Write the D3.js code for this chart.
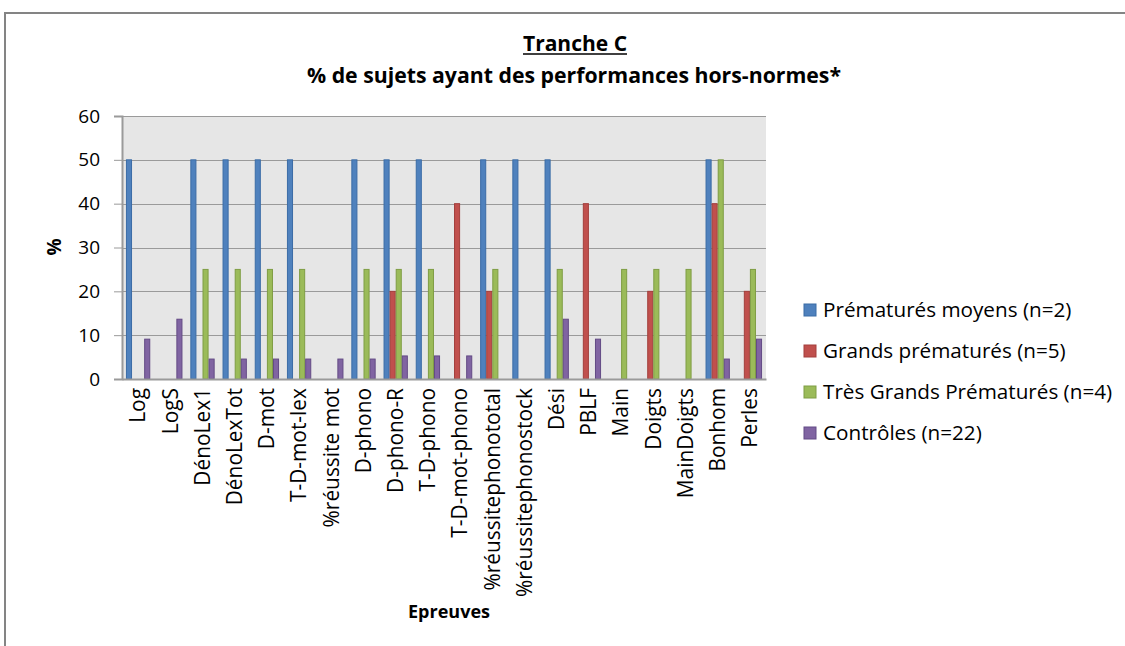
<!DOCTYPE html>
<html>
<head>
<meta charset="utf-8">
<script src="https://cdn.jsdelivr.net/npm/d3@7"></script>
<style>
  html, body { margin: 0; padding: 0; background: #fff; }
  svg { display: block; }
</style>
</head>
<body>
<svg id="chart" width="1125" height="646"></svg>
<script>
const categories = ["Log", "LogS", "DénoLex1", "DénoLexTot", "D-mot", "T-D-mot-lex", "%réussite mot", "D-phono", "D-phono-R", "T-D-phono", "T-D-mot-phono", "%réussitephonototal", "%réussitephonostock", "Dési", "PBLF", "Main", "Doigts", "MainDoigts", "Bonhom", "Perles"];
const seriesNames = ["Prématurés moyens (n=2)", "Grands prématurés (n=5)", "Très Grands Prématurés (n=4)", "Contrôles (n=22)"];
const premMoyens   = [50, 0, 50, 50, 50, 50, 0, 50, 50, 50, 0, 50, 50, 50, 0, 0, 0, 0, 50, 0];
const grandsPrem   = [0, 0, 0, 0, 0, 0, 0, 0, 20, 0, 40, 20, 0, 0, 40, 0, 20, 0, 40, 20];
const tresGrands   = [0, 0, 25, 25, 25, 25, 0, 25, 25, 25, 0, 25, 0, 25, 0, 25, 25, 25, 50, 25];
const controles    = [9.09, 13.64, 4.55, 4.55, 4.55, 4.55, 4.55, 4.55, 5.26, 5.26, 5.26, 0, 0, 13.64, 9.09, 0, 0, 0, 4.55, 9.09];
const yTicks = [0, 10, 20, 30, 40, 50, 60];
const titleText = "Tranche C";
const subtitleText = "% de sujets ayant des performances hors-normes*";
const xTitle = "Epreuves";
const yTitle = "%";

const seriesValues = [premMoyens, grandsPrem, tresGrands, controles];
const fills = ["#4F81BD", "#C0504D", "#9BBB59", "#8064A2"];
const strokes = ["#3B6CA6", "#A33F3C", "#7F9D44", "#634A85"];

const svg = d3.select("#chart");
const FONT = "'Open Sans', 'Liberation Sans', sans-serif";

function fitFont(sel, target, start) {
  let fs = start;
  sel.style("font-size", fs + "px");
  for (let i = 0; i < 4; i++) {
    const w = sel.node().getComputedTextLength();
    if (w > 0) fs = fs * target / w;
    sel.style("font-size", fs + "px");
  }
  return fs;
}

// Outer frame (cut at right and bottom)
svg.append("line").attr("x1", 5).attr("x2", 1125).attr("y1", 13).attr("y2", 13)
  .attr("stroke", "#848484").attr("stroke-width", 2);
svg.append("line").attr("x1", 5).attr("x2", 5).attr("y1", 12).attr("y2", 646)
  .attr("stroke", "#848484").attr("stroke-width", 2);

const plot = { left: 122, top: 116, right: 766, bottom: 379 };

const x0 = d3.scaleBand().domain(categories).range([plot.left, plot.right]).paddingInner(0).paddingOuter(0);
const gapRatio = 1.3;
const x1 = d3.scaleBand().domain(d3.range(4))
  .range([x0.bandwidth() * (gapRatio / 2) / (4 + gapRatio), x0.bandwidth() - x0.bandwidth() * (gapRatio / 2) / (4 + gapRatio)])
  .padding(0);
const y = d3.scaleLinear().domain([0, 60]).range([plot.bottom, plot.top]);

// plot background
svg.append("rect").attr("x", plot.left).attr("y", plot.top)
  .attr("width", plot.right - plot.left).attr("height", plot.bottom - plot.top)
  .attr("fill", "#E6E6E6");

// gridlines
svg.append("g").selectAll("line").data(yTicks.filter(d => d > 0)).join("line")
  .attr("x1", plot.left).attr("x2", plot.right)
  .attr("y1", d => Math.round(y(d)) + 0.5).attr("y2", d => Math.round(y(d)) + 0.5)
  .attr("stroke", "#9A9A9A").attr("stroke-width", 1);

// bars
const barG = svg.append("g");
categories.forEach((c, i) => {
  seriesValues.forEach((vals, s) => {
    const v = vals[i];
    if (v <= 0) return;
    barG.append("rect")
      .attr("x", x0(c) + x1(s) + 0.5)
      .attr("y", y(v))
      .attr("width", x1.bandwidth() - 1)
      .attr("height", y(0) - y(v))
      .attr("fill", fills[s])
      .attr("stroke", strokes[s])
      .attr("stroke-width", 1);
  });
});

// y axis
const yAxis = d3.axisLeft(y).tickValues(yTicks).tickSize(8).tickPadding(14).tickFormat(d3.format("d"));
const yg = svg.append("g").attr("transform", `translate(${plot.left},0)`).call(yAxis);
yg.select(".domain").attr("stroke", "#9A9A9A").attr("stroke-width", 2);
yg.selectAll(".tick line").attr("stroke", "#9A9A9A").attr("stroke-width", 1);
yg.selectAll(".tick text").style("font-family", FONT).style("font-size", "19px").attr("fill", "#000");

// x axis
const xAxis = d3.axisBottom(x0).tickSize(0).tickPadding(0);
const xg = svg.append("g").attr("transform", `translate(0,${plot.bottom})`).call(xAxis);
xg.select(".domain").attr("stroke", "#9A9A9A").attr("stroke-width", 2);
const xt = xg.selectAll(".tick text")
  .style("font-family", FONT).attr("fill", "#000")
  .attr("text-anchor", "end")
  .attr("transform", "rotate(-90)")
  .attr("x", -9).attr("y", 0).attr("dy", "0.35em");
let longest = xt.filter(d => d === "%réussitephonostock");
const fsX = fitFont(longest, 209, 16);
xt.style("font-size", fsX + "px");

// titles
const t1 = svg.append("text").attr("x", 575).attr("y", 51).attr("text-anchor", "middle")
  .style("font-family", FONT).style("font-weight", "bold").attr("fill", "#000").text(titleText);
fitFont(t1, 104, 17);
const t1w = t1.node().getComputedTextLength();
svg.append("line").attr("x1", 575 - t1w / 2).attr("x2", 575 + t1w / 2)
  .attr("y1", 54).attr("y2", 54).attr("stroke", "#000").attr("stroke-width", 1.5);
const t2 = svg.append("text").attr("x", 574).attr("y", 83).attr("text-anchor", "middle")
  .style("font-family", FONT).style("font-weight", "bold").attr("fill", "#000").text(subtitleText);
fitFont(t2, 534, 17);

const xl = svg.append("text").attr("x", 449).attr("y", 618).attr("text-anchor", "middle")
  .style("font-family", FONT).style("font-weight", "bold").attr("fill", "#000").text(xTitle);
fitFont(xl, 82, 17);

svg.append("text").attr("transform", "translate(61,247) rotate(-90)").attr("text-anchor", "middle")
  .style("font-family", FONT).style("font-size", "19px").style("font-weight", "bold").attr("fill", "#000").text(yTitle);

// legend
const legY = [310, 351, 392, 433];
const leg = svg.append("g");
const legItems = leg.selectAll("g").data(seriesNames).join("g")
  .attr("transform", (d, i) => `translate(804,${legY[i]})`);
legItems.append("rect").attr("x", 0).attr("y", -6).attr("width", 12).attr("height", 12)
  .attr("fill", (d, i) => fills[i]).attr("stroke", (d, i) => strokes[i]).attr("stroke-width", 1);
const legTexts = legItems.append("text").attr("x", 19).attr("y", 0).attr("dy", "0.35em")
  .style("font-family", FONT).attr("fill", "#000").text(d => d);
const fsL = fitFont(legTexts.filter((d, i) => i === 2), 289, 17);
legTexts.style("font-size", fsL + "px");
</script>
</body>
</html>
